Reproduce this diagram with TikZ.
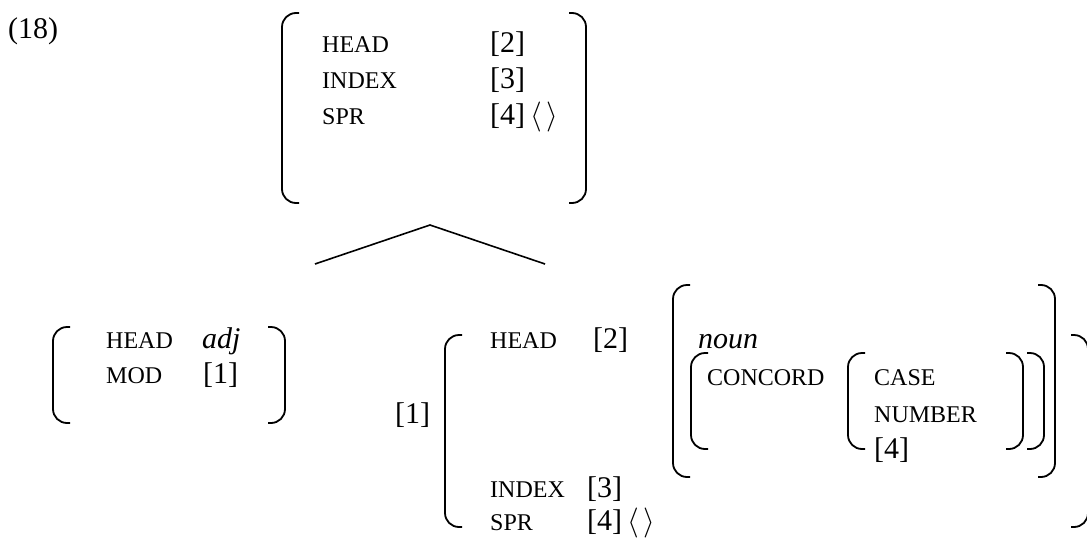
\documentclass[tikz,border=0pt]{standalone}
\usepackage{fix-cm}
\usepackage{fontspec}
\setmainfont{Liberation Serif}
\tikzset{
  brk/.style={line width=1.8pt, rounded corners=14pt},
  lbl/.style={font=\fontsize{24}{28}\selectfont, anchor=base west, inner sep=0pt},
  val/.style={font=\fontsize{30}{34}\selectfont, anchor=base west, inner sep=0pt},
  ival/.style={font=\fontsize{30}{34}\selectfont\itshape, anchor=base west, inner sep=0pt},
  branch/.style={line width=1.6pt},
}
\newcommand\avmL[3]{\draw[brk] (#1+17,#2) -- (#1,#2) -- (#1,#3) -- (#1+17,#3);}
\newcommand\avmR[3]{\draw[brk] (#1-17,#2) -- (#1,#2) -- (#1,#3) -- (#1-17,#3);}
\begin{document}
\begin{tikzpicture}[x=1pt,y=-1pt]
\useasboundingbox (0,0) rectangle (1087,541);
% example number
\node[val] (num) at (8,38) {(18)};
% mother AVM
\avmL{282}{13}{203}
\avmR{586}{13}{203}
\node[lbl] (mhead) at (322,52) {HEAD};
\node[lbl] (mindex) at (322,88) {INDEX};
\node[lbl] (mspr) at (322,124) {SPR};
\node[val] (mhv) at (490,52) {[2]};
\node[val] (miv) at (490,88) {[3]};
\node[val] (msv) at (490,124) {[4]\,$\langle\,\rangle$};
% branches
\coordinate (apex) at (430,225);
\coordinate (lleg) at (315,264);
\coordinate (rleg) at (545,264);
\draw[branch] (lleg) -- (apex) -- (rleg);
% left daughter
\avmL{53}{327}{423}
\avmR{285}{327}{423}
\node[lbl] (lhead) at (106,348) {HEAD};
\node[lbl] (lmod) at (106,383) {MOD};
\node[ival] (ladj) at (202,348) {adj};
\node[val] (lmv) at (203,383) {[1]};
% right daughter
\node[val] (tag) at (395,423) {[1]};
\avmL{445}{335}{527}
\avmR{1088}{335}{527}
\node[lbl] (rhead) at (490,348) {HEAD};
\node[val] (rhv) at (593,348) {[2]};
\node[lbl] (rindex) at (490,497) {INDEX};
\node[val] (riv) at (587,497) {[3]};
\node[lbl] (rspr) at (490,530) {SPR};
\node[val] (rsv) at (587,530) {[4]\,$\langle\,\rangle$};
% noun AVM
\avmL{673}{285}{477}
\avmR{1055}{285}{477}
\node[ival] (noun) at (698,348) {noun};
\avmL{691}{353}{449}
\avmR{1044}{353}{449}
\node[lbl] (concord) at (707,385) {CONCORD};
\avmL{848}{353}{449}
\avmR{1023}{353}{449}
\node[lbl] (case) at (874,385) {CASE};
\node[lbl] (number) at (874,422) {NUMBER};
\node[val] (cv) at (874,458) {[4]};
\end{tikzpicture}
\end{document}
